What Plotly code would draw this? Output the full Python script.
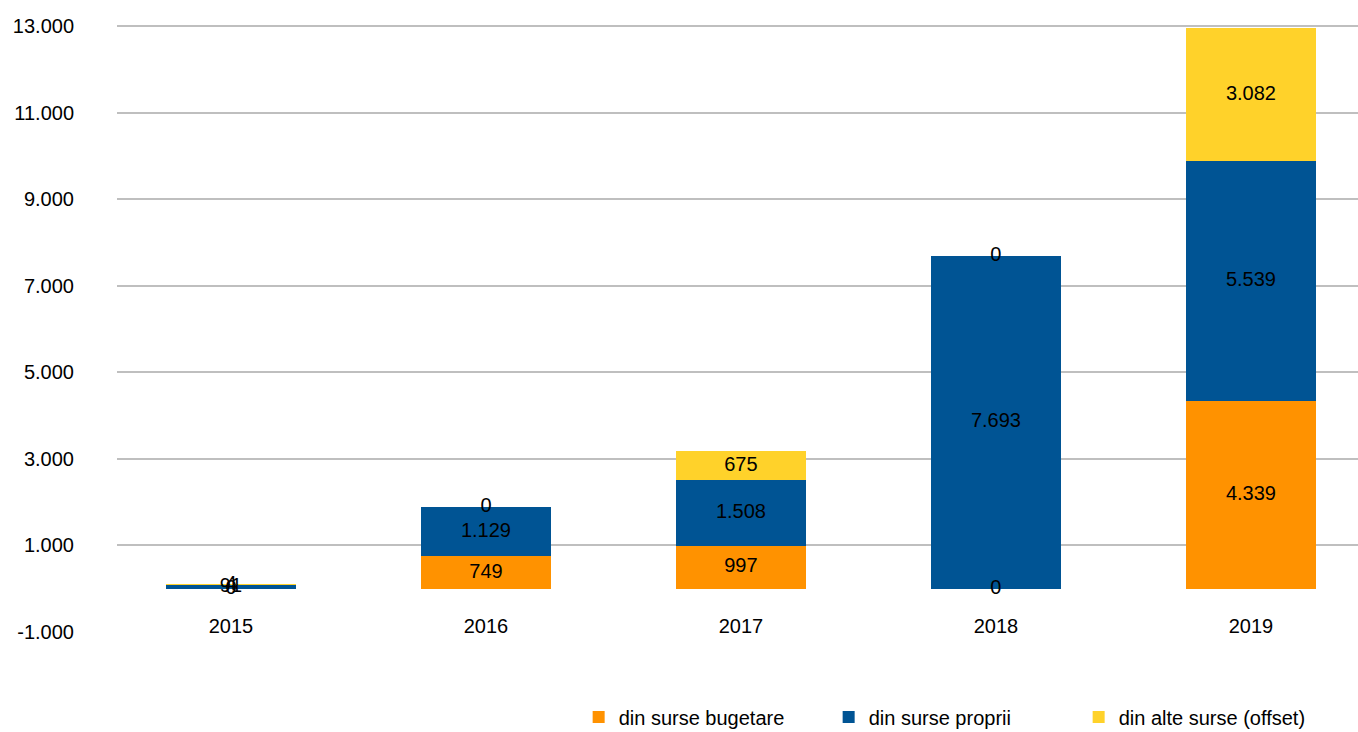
import plotly.graph_objects as go

years = ["2015", "2016", "2017", "2018", "2019"]
bugetare = [0, 749, 997, 0, 4339]
proprii = [91, 1129, 1508, 7693, 5539]
offset = [4, 0, 675, 0, 3082]
series_names = ["din surse bugetare", "din surse proprii", "din alte surse (offset)"]
colors = ["#FF9200", "#005494", "#FFD22A"]
y_tickvals = [-1000, 1000, 3000, 5000, 7000, 9000, 11000, 13000]
y_ticktext = ["-1.000", "1.000", "3.000", "5.000", "7.000", "9.000", "11.000", "13.000"]


def fmt(v):
    return f"{v:,}".replace(",", ".")


FONT = "Liberation Sans, Arial"

fig = go.Figure()
series = [bugetare, proprii, offset]
for name, vals, col in zip(series_names, series, colors):
    fig.add_trace(go.Bar(x=years, y=vals, name=name, marker=dict(color=col, line=dict(width=0)),
                         width=0.51, hoverinfo="skip"))

# labels at segment centers
base = [0] * len(years)
for vals in series:
    mids = [b + v / 2 for b, v in zip(base, vals)]
    fig.add_trace(go.Scatter(x=years, y=mids, mode="text", text=[fmt(v) for v in vals],
                             textfont=dict(family=FONT, size=20, color="black"),
                             showlegend=False, hoverinfo="skip"))
    base = [b + v for b, v in zip(base, vals)]

fig.update_layout(
    barmode="stack",
    width=1358, height=732,
    margin=dict(l=117, r=0, t=25, b=100, autoexpand=False),
    paper_bgcolor="white", plot_bgcolor="white",
    font=dict(family=FONT, size=20, color="black"),
    showlegend=True,
    legend=dict(orientation="h", x=0.372, y=-0.108, xanchor="left", yanchor="top",
                font=dict(size=20), entrywidth=205, entrywidthmode="pixels",
                traceorder="normal", itemclick=False),
    xaxis=dict(range=[-0.447, 4.42], showgrid=False, showline=False, ticks="",
               anchor="free", position=0.033, tickfont=dict(size=20)),
    yaxis=dict(range=[-1000, 13030], tickvals=y_tickvals, ticktext=y_ticktext,
               showgrid=True, gridcolor="#BFBFBF", gridwidth=2, zeroline=False,
               showline=False, ticks="", ticklabelstandoff=42, tickfont=dict(size=20)),
)

fig.write_html("out.html")
